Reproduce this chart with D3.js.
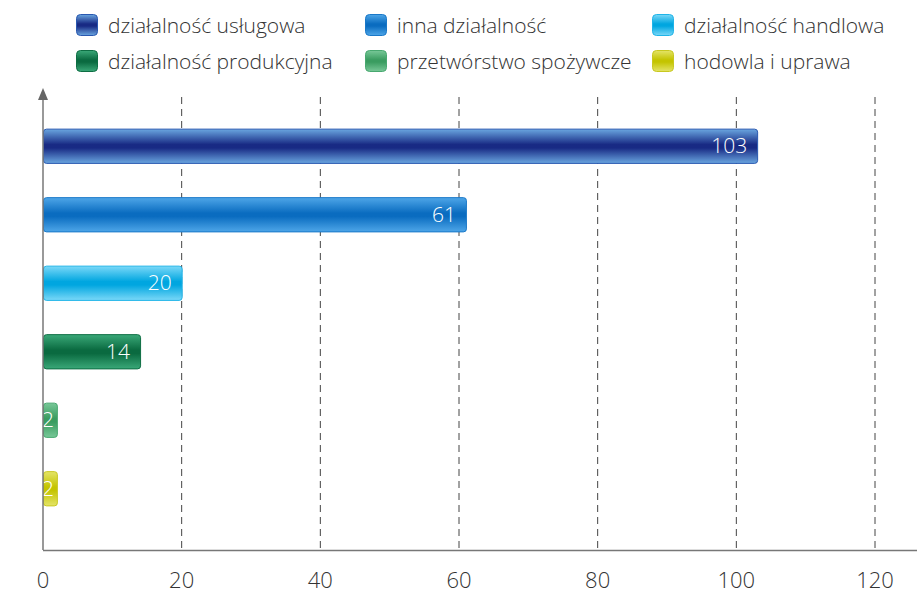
<!DOCTYPE html>
<html>
<head>
<meta charset="utf-8">
<script src="https://cdn.jsdelivr.net/npm/d3@7"></script>
<style>
  body { margin: 0; background: #fff; }
  text { font-family: "Open Sans", sans-serif; font-weight: 300; }
</style>
</head>
<body>
<div id="chart"></div>
<script>
// chart data
var categories = ["działalność usługowa", "inna działalność", "działalność handlowa",
  "działalność produkcyjna", "przetwórstwo spożywcze", "hodowla i uprawa"];
var values = [103, 61, 20, 14, 2, 2];
var xTicks = [0, 20, 40, 60, 80, 100, 120];

// glossy colours: [edge, middle, border]
var colors = [
  ["#6aa6e0", "#182a84", "#2a58b0"],
  ["#4ea6e8", "#0a6cc0", "#1a78c8"],
  ["#7ad8f8", "#00a6e0", "#20b4e8"],
  ["#3aa878", "#0a6a40", "#0e6e44"],
  ["#78c898", "#3a9c60", "#48a870"],
  ["#e4e468", "#c4c400", "#c8c820"]
];

var svgWidth = 917, svgHeight = 597;
var margin = { top: 112, right: 42, bottom: 75, left: 43 };
var width = 875 - margin.left;

var svg = d3.select("#chart").append("svg")
  .attr("width", svgWidth)
  .attr("height", svgHeight);

var defs = svg.append("defs");
colors.forEach(function(c, i) {
  var g = defs.append("linearGradient")
    .attr("id", "grad" + i)
    .attr("x1", 0).attr("y1", 0).attr("x2", 0).attr("y2", 1);
  g.append("stop").attr("offset", "0%").attr("stop-color", c[0]);
  g.append("stop").attr("offset", "45%").attr("stop-color", c[1]);
  g.append("stop").attr("offset", "55%").attr("stop-color", c[1]);
  g.append("stop").attr("offset", "100%").attr("stop-color", c[0]);
});

var x = d3.scaleLinear().domain([0, 120]).range([0, width]);
var y = d3.scaleBand().domain(categories).range([0, 411]).paddingInner(0.5).paddingOuter(0.25);

var chart = svg.append("g")
  .attr("transform", `translate(${margin.left}, ${margin.top})`);

// dashed grid
chart.selectAll(".grid")
  .data(xTicks.filter(d => d > 0))
  .enter().append("line")
  .attr("x1", d => x(d)).attr("x2", d => x(d))
  .attr("y1", -15).attr("y2", 438)
  .attr("stroke", "#444")
  .attr("stroke-width", 1)
  .attr("stroke-dasharray", "7,5");

// bars
chart.selectAll(".bar")
  .data(values)
  .enter().append("rect")
  .attr("x", 0.5)
  .attr("y", (d, i) => y(categories[i]))
  .attr("width", d => x(d))
  .attr("height", y.bandwidth())
  .attr("rx", 3)
  .attr("fill", (d, i) => `url(#grad${i})`)
  .attr("stroke", (d, i) => colors[i][2])
  .attr("stroke-width", 1);

// value labels
chart.selectAll(".val")
  .data(values)
  .enter().append("text")
  .attr("x", d => Math.max(x(d) - 10, String(d).length * 11))
  .attr("y", (d, i) => y(categories[i]) + y.bandwidth() / 2 + 7)
  .attr("text-anchor", "end")
  .attr("fill", "#fff")
  .attr("font-size", 21)
  .text(d => d);

// axes
var axisY = 438;
chart.append("line")
  .attr("x1", 0).attr("x2", svgWidth - margin.left)
  .attr("y1", axisY + 0.5).attr("y2", axisY + 0.5)
  .attr("stroke", "#777").attr("stroke-width", 1.5);
chart.append("line")
  .attr("x1", 0).attr("x2", 0)
  .attr("y1", -18).attr("y2", axisY)
  .attr("stroke", "#777").attr("stroke-width", 1.5);
chart.append("path")
  .attr("d", "M-5,-12 L0,-24 L5,-12 Z")
  .attr("fill", "#666");

chart.selectAll(".tick")
  .data(xTicks)
  .enter().append("text")
  .attr("x", d => x(d))
  .attr("y", 476)
  .attr("text-anchor", "middle")
  .attr("fill", "#333")
  .attr("font-size", 22)
  .text(d => d);

// legend
var legendX = [76, 365, 652];
var legend = svg.selectAll(".legend")
  .data(categories)
  .enter().append("g")
  .attr("transform", (d, i) => `translate(${legendX[i % 3]}, ${14 + Math.floor(i / 3) * 36})`);
legend.append("rect")
  .attr("x", 0.5).attr("y", 0.5)
  .attr("width", 21).attr("height", 21)
  .attr("rx", 4)
  .attr("fill", (d, i) => `url(#grad${i})`)
  .attr("stroke", (d, i) => colors[i][2]);
legend.append("text")
  .attr("x", 32)
  .attr("y", 19)
  .attr("fill", "#333")
  .attr("font-size", 21)
  .text(d => d);
</script>
</body>
</html>
